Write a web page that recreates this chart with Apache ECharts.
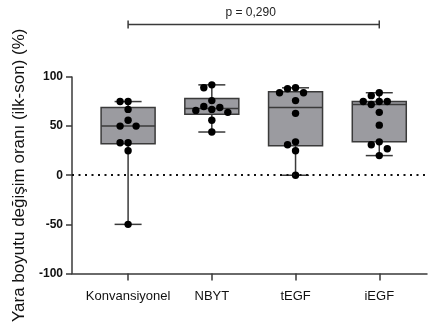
<!DOCTYPE html>
<html>
<head>
<meta charset="utf-8">
<script src="https://cdn.jsdelivr.net/npm/echarts@6/dist/echarts.min.js"></script>
<style>
html,body{margin:0;padding:0;background:#fff;}
#chart{width:428px;height:325px;}
</style>
</head>
<body>
<div id="chart"></div>
<script>
const categories = ['Konvansiyonel', 'NBYT', 'tEGF', 'iEGF'];
// individual observations
const konvansiyonel = [75, 75, 67, 56, 50, 50, 33, 33, 25, -50];
const nbyt = [92, 89, 76, 70, 69, 67, 66, 64, 56, 44];
const tegf = [89, 88, 84, 84, 76, 63, 34, 31, 25, 0];
const iegf = [84, 81, 75, 75, 75, 72, 64, 51, 34, 31, 27, 20];
// box statistics [min, Q1, median, Q3, max]
const boxKonv = [-50, 32, 50, 69, 75];
const boxNbyt = [44, 62, 68, 78, 92];
const boxTegf = [0, 30, 69, 85, 89];
const boxIegf = [20, 34, 72, 75, 84];
const yTicks = [-100, -50, 0, 50, 100];
const pLabel = 'p = 0,290';
const bracketLevel = 153.5;

const groups = [konvansiyonel, nbyt, tegf, iegf];
const boxes = [boxKonv, boxNbyt, boxTegf, boxIegf];

const FONT = '"Liberation Sans", Arial, sans-serif';
const LINE = '#3a3a3a';
const BOX_FILL = '#9b9ba0';
const BOX_HALF = 27;
const CAP_HALF = 13.5;
const DOT_R = 3.7;
const STEP = 8;

function renderGroup(params, api) {
  const i = api.value(0);
  const b = boxes[i];
  const pMin = api.coord([i, b[0]]);
  const pQ1 = api.coord([i, b[1]]);
  const pMed = api.coord([i, b[2]]);
  const pQ3 = api.coord([i, b[3]]);
  const pMax = api.coord([i, b[4]]);
  const cx = pMed[0];
  const ls = { stroke: LINE, lineWidth: 1.5 };
  const children = [
    { type: 'line', shape: { x1: cx, y1: pMax[1], x2: cx, y2: pQ3[1] }, style: ls },
    { type: 'line', shape: { x1: cx, y1: pQ1[1], x2: cx, y2: pMin[1] }, style: ls },
    { type: 'line', shape: { x1: cx - CAP_HALF, y1: pMax[1], x2: cx + CAP_HALF, y2: pMax[1] }, style: ls },
    { type: 'line', shape: { x1: cx - CAP_HALF, y1: pMin[1], x2: cx + CAP_HALF, y2: pMin[1] }, style: ls },
    { type: 'rect', shape: { x: cx - BOX_HALF, y: pQ3[1], width: BOX_HALF * 2, height: pQ1[1] - pQ3[1] },
      style: { fill: BOX_FILL, stroke: LINE, lineWidth: 1.5 } },
    { type: 'line', shape: { x1: cx - BOX_HALF, y1: pMed[1], x2: cx + BOX_HALF, y2: pMed[1] }, style: ls }
  ];
  // simple beeswarm in pixel space
  const vals = groups[i].slice().sort((a, b2) => b2 - a);
  const placed = [];
  const cands = [0, -1, 1, -2, 2, -3, 3];
  vals.forEach(v => {
    const p = api.coord([i, v]);
    let x = cx;
    for (const c of cands) {
      const tx = cx + c * STEP;
      const ok = placed.every(q => Math.hypot(q[0] - tx, q[1] - p[1]) >= DOT_R * 2 + 0.2);
      if (ok) { x = tx; break; }
    }
    placed.push([x, p[1]]);
    children.push({ type: 'circle', shape: { cx: x, cy: p[1], r: DOT_R }, style: { fill: '#000' } });
  });
  return { type: 'group', children };
}

function renderBracket(params, api) {
  const a = api.coord([api.value(0), api.value(2)]);
  const b = api.coord([api.value(1), api.value(2)]);
  const ls = { stroke: LINE, lineWidth: 1.5 };
  return {
    type: 'group',
    children: [
      { type: 'line', shape: { x1: a[0], y1: a[1], x2: b[0], y2: b[1] }, style: ls },
      { type: 'line', shape: { x1: a[0], y1: a[1] - 4, x2: a[0], y2: a[1] + 4 }, style: ls },
      { type: 'line', shape: { x1: b[0], y1: b[1] - 4, x2: b[0], y2: b[1] + 4 }, style: ls },
      { type: 'text', style: { text: pLabel, x: (a[0] + b[0]) / 2 - 3, y: a[1] - 6,
        textAlign: 'center', textVerticalAlign: 'bottom', fill: '#222', font: '12px ' + FONT } }
    ]
  };
}

const chart = echarts.init(document.getElementById('chart'), null, { renderer: 'canvas' });
chart.setOption({
  animation: false,
  backgroundColor: '#fff',
  grid: { left: 72, right: 1, top: 77, bottom: 50 },
  xAxis: {
    type: 'value', min: -0.67, max: 3.57,
    splitLine: { show: false },
    axisLine: { show: true, onZero: false, lineStyle: { color: LINE, width: 1.5 } },
    axisTick: { show: true, length: 7, customValues: [0, 1, 2, 3], lineStyle: { color: LINE, width: 1.5 } },
    axisLabel: { customValues: [0, 1, 2, 3], formatter: v => categories[v], margin: 16,
      fontFamily: FONT, fontSize: 13, color: '#111' }
  },
  yAxis: {
    type: 'value', min: yTicks[0], max: yTicks[yTicks.length - 1], interval: 50,
    splitLine: { show: false },
    axisLine: { show: true, onZero: false, lineStyle: { color: LINE, width: 1.5 } },
    axisTick: { show: true, length: 6, lineStyle: { color: LINE, width: 1.5 } },
    axisLabel: { margin: 9, fontFamily: FONT, fontSize: 12, fontWeight: 'bold', color: '#111' },
    name: 'Yara boyutu değişim oranı (ilk-son) (%)',
    nameLocation: 'middle', nameGap: 41,
    nameTextStyle: { fontFamily: FONT, fontSize: 17, color: '#111' }
  },
  series: [
    {
      type: 'custom',
      renderItem: renderGroup,
      data: categories.map((c, i) => [i]),
      encode: { x: 0 },
      clip: false,
      markLine: {
        silent: true, symbol: 'none', label: { show: false },
        lineStyle: { color: '#111', type: [2, 4.5], width: 2 },
        data: [{ yAxis: 0 }]
      },
      z: 3
    },
    {
      type: 'custom',
      renderItem: renderBracket,
      data: [[0, 3, bracketLevel]],
      encode: { x: [0, 1], y: 2 },
      clip: false
    }
  ]
});
</script>
</body>
</html>
